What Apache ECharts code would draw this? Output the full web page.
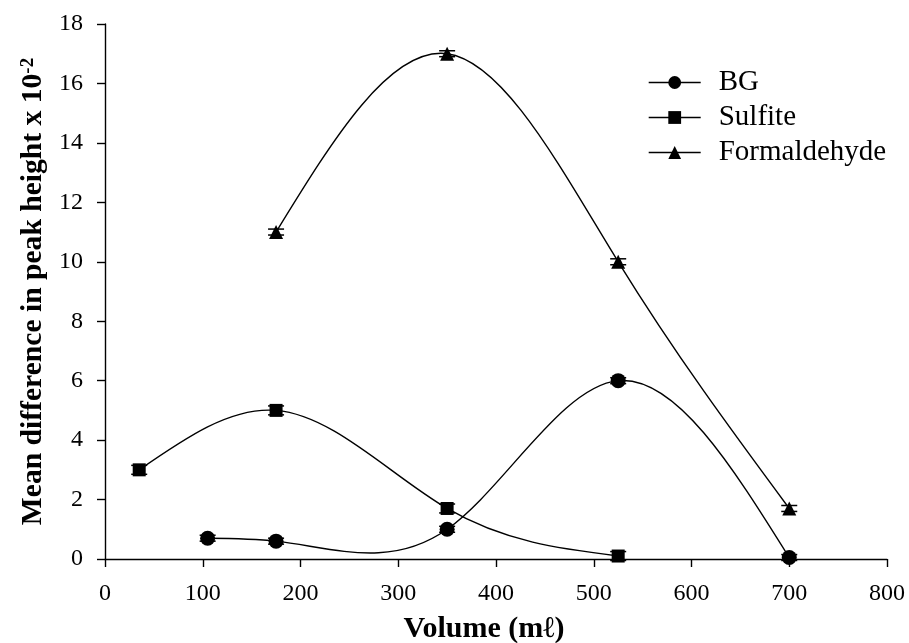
<!DOCTYPE html>
<html>
<head>
<meta charset="utf-8">
<script src="https://cdn.jsdelivr.net/npm/echarts@6/dist/echarts.min.js"></script>
<style>
html,body{margin:0;padding:0;background:#fff;}
#chart{width:909px;height:643px;}
</style>
</head>
<body>
<div id="chart"></div>
<script>
// Data
var bgX = [105, 175, 350, 525, 700];
var bgY = [0.7, 0.6, 1.0, 6.0, 0.05];
var bgErr = [0.1, 0.1, 0.1, 0.1, 0.1];

var sulfiteX = [35, 175, 350, 525];
var sulfiteY = [3.0, 5.0, 1.7, 0.1];
var sulfiteErr = [0.15, 0.15, 0.15, 0.15];

var formX = [175, 350, 525, 700];
var formY = [11.0, 17.0, 10.0, 1.7];
var formErr = [0.1, 0.1, 0.1, 0.1];

var seriesNames = ['BG', 'Sulfite', 'Formaldehyde'];
var xTicks = [0, 800, 100];
var yTicks = [0, 18, 2];

var FONT = 'Liberation Serif';

function pairs(xs, ys) {
  return xs.map(function (x, i) { return [x, ys[i]]; });
}
function errData(xs, ys, es) {
  return xs.map(function (x, i) { return [x, ys[i] - es[i], ys[i] + es[i]]; });
}

// Natural cubic spline slopes at the knots (curve rendering only)
function splineSlopes(xs, ys) {
  var n = xs.length, h = [], i;
  for (i = 0; i < n - 1; i++) h.push(xs[i + 1] - xs[i]);
  var M = new Array(n).fill(0);
  if (n > 2) {
    var a = [], b = [], c = [], d = [];
    for (i = 1; i < n - 1; i++) {
      a.push(h[i - 1]); b.push(2 * (h[i - 1] + h[i])); c.push(h[i]);
      d.push(6 * ((ys[i + 1] - ys[i]) / h[i] - (ys[i] - ys[i - 1]) / h[i - 1]));
    }
    var m = b.length;
    for (i = 1; i < m; i++) {
      var w = a[i] / b[i - 1];
      b[i] -= w * c[i - 1]; d[i] -= w * d[i - 1];
    }
    var sol = new Array(m);
    sol[m - 1] = d[m - 1] / b[m - 1];
    for (i = m - 2; i >= 0; i--) sol[i] = (d[i] - c[i] * sol[i + 1]) / b[i];
    for (i = 0; i < m; i++) M[i + 1] = sol[i];
  }
  var s = [];
  for (i = 0; i < n - 1; i++) s.push((ys[i + 1] - ys[i]) / h[i] - h[i] * (2 * M[i] + M[i + 1]) / 6);
  s.push((ys[n - 1] - ys[n - 2]) / h[n - 2] + h[n - 2] * (M[n - 2] + 2 * M[n - 1]) / 6);
  return s;
}

function curveSeries(name, xs, ys) {
  return {
    type: 'custom',
    name: name + '-curve',
    data: pairs(xs, ys),
    z: 2,
    silent: true,
    clip: false,
    renderItem: function (params, api) {
      if (params.dataIndex !== 0) return null;
      var s = splineSlopes(xs, ys);
      var p0 = api.coord([xs[0], ys[0]]);
      var d = 'M' + p0[0] + ' ' + p0[1];
      for (var j = 0; j < xs.length - 1; j++) {
        var h = xs[j + 1] - xs[j];
        var c1 = api.coord([xs[j] + h / 3, ys[j] + h * s[j] / 3]);
        var c2 = api.coord([xs[j + 1] - h / 3, ys[j + 1] - h * s[j + 1] / 3]);
        var e = api.coord([xs[j + 1], ys[j + 1]]);
        d += ' C' + c1[0] + ' ' + c1[1] + ' ' + c2[0] + ' ' + c2[1] + ' ' + e[0] + ' ' + e[1];
      }
      return {
        type: 'path',
        shape: { pathData: d },
        style: { stroke: '#000', lineWidth: 1.4, fill: 'none' }
      };
    }
  };
}
function errSeries(name, data) {
  return {
    type: 'custom',
    name: name + '-err',
    data: data,
    z: 3,
    silent: true,
    renderItem: function (params, api) {
      var x = api.value(0);
      var lo = api.coord([x, api.value(1)]);
      var hi = api.coord([x, api.value(2)]);
      var w = 8;
      var st = { stroke: '#000', lineWidth: 1.5 };
      return {
        type: 'group',
        children: [
          { type: 'line', shape: { x1: lo[0], y1: lo[1], x2: hi[0], y2: hi[1] }, style: st },
          { type: 'line', shape: { x1: lo[0] - w, y1: lo[1], x2: lo[0] + w, y2: lo[1] }, style: st },
          { type: 'line', shape: { x1: hi[0] - w, y1: hi[1], x2: hi[0] + w, y2: hi[1] }, style: st }
        ]
      };
    }
  };
}
function markerSeries(name, xs, ys, symbol, size) {
  return {
    type: 'line',
    name: name,
    data: pairs(xs, ys),
    symbol: symbol,
    symbolSize: size,
    showAllSymbol: true,
    z: 4,
    lineStyle: { color: '#000', width: 1.4, opacity: 0 },
    itemStyle: { color: '#000', borderColor: '#000', borderWidth: 0 },
    emphasis: { disabled: true }
  };
}

var chart = echarts.init(document.getElementById('chart'), null, { renderer: 'canvas' });
chart.setOption({
  animation: false,
  backgroundColor: '#fff',
  grid: { left: 105, right: 22, top: 24, bottom: 84, containLabel: false, outerBoundsMode: 'none' },
  legend: {
    orient: 'vertical',
    left: 643,
    top: 63,
    itemWidth: 52,
    itemHeight: 16,
    itemGap: 6,
    data: seriesNames,
    lineStyle: { color: '#000', width: 1.4, opacity: 1 },
    textStyle: { fontFamily: FONT, fontSize: 29, color: '#000', padding: [0, 0, 0, 13] },
    inactiveColor: '#000'
  },
  xAxis: {
    type: 'value',
    min: xTicks[0], max: xTicks[1], interval: xTicks[2],
    name: 'Volume (m\u2113)',
    nameLocation: 'middle',
    nameGap: 55,
    nameTextStyle: { fontFamily: FONT, fontSize: 30, fontWeight: 'bold', color: '#000', padding: [0, 24, 0, 0] },
    axisLine: { show: true, onZero: false, lineStyle: { color: '#000', width: 1.4 } },
    axisTick: { show: true, inside: false, length: 8, lineStyle: { color: '#000', width: 1.4 } },
    axisLabel: { fontFamily: FONT, fontSize: 24, color: '#000', margin: 23 },
    splitLine: { show: false }
  },
  yAxis: {
    type: 'value',
    min: yTicks[0], max: yTicks[1], interval: yTicks[2],
    name: '{a|Mean difference in peak height x 10}{b|-2}',
    nameLocation: 'middle',
    nameGap: 54,
    nameRotate: 90,
    nameTextStyle: {
      color: '#000',
      rich: {
        a: { fontFamily: FONT, fontSize: 29.6, fontWeight: 'bold', color: '#000' },
        b: { fontFamily: FONT, fontSize: 19, fontWeight: 'bold', color: '#000', verticalAlign: 'top' }
      }
    },
    axisLine: { show: true, onZero: false, lineStyle: { color: '#000', width: 1.4 } },
    axisTick: { show: true, inside: false, length: 8, lineStyle: { color: '#000', width: 1.4 } },
    axisLabel: { fontFamily: FONT, fontSize: 24, color: '#000', margin: 22 },
    splitLine: { show: false }
  },
  series: [
    markerSeries(seriesNames[0], bgX, bgY, 'circle', 15),
    markerSeries(seriesNames[1], sulfiteX, sulfiteY, 'rect', 13),
    markerSeries(seriesNames[2], formX, formY, 'triangle', 14),
    curveSeries(seriesNames[0], bgX, bgY),
    curveSeries(seriesNames[1], sulfiteX, sulfiteY),
    curveSeries(seriesNames[2], formX, formY),
    errSeries(seriesNames[0], errData(bgX, bgY, bgErr)),
    errSeries(seriesNames[1], errData(sulfiteX, sulfiteY, sulfiteErr)),
    errSeries(seriesNames[2], errData(formX, formY, formErr))
  ]
});
</script>
</body>
</html>
